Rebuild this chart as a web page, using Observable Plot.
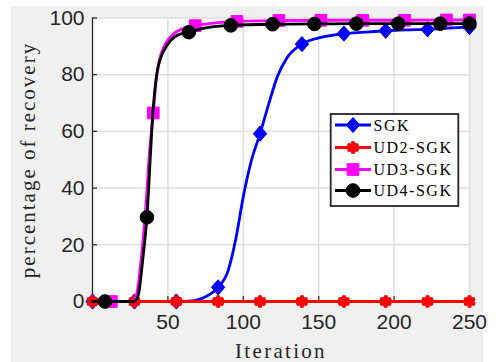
<!DOCTYPE html>
<html>
<head>
<meta charset="utf-8">
<script src="https://cdn.jsdelivr.net/npm/d3@7"></script>
<script src="https://cdn.jsdelivr.net/npm/@observablehq/plot@0.6"></script>
<style>
  html, body { margin: 0; padding: 0; background: #ffffff; }
  #wrap { position: relative; width: 498px; height: 362px; overflow: hidden; }
  #bg { position: absolute; left: 11px; top: 6px; width: 472px; height: 356px; background: #f0f0f0; }
  #chart { position: absolute; left: 0; top: 0; }
  #legend { position: absolute; left: 0; top: 0; }
</style>
</head>
<body>
<div id="wrap"><div id="bg"></div><div id="chart"></div><svg id="legend" width="498" height="362"></svg></div>
<script>
// ---------------- data ----------------
const seriesNames = ["SGK", "UD2-SGK", "UD3-SGK", "UD4-SGK"];
const seriesColors = ["#0000ff", "#ff0000", "#ff00ff", "#000000"];

const xTicks = [50, 100, 150, 200, 250];
const yTicks = [0, 20, 40, 60, 80, 100];

// SGK curve
const sgkX = [0, 27.8, 55.6, 66, 73, 78, 83.3, 90, 95, 100, 105, 111.1, 116.5, 122.7, 129, 138.9, 150, 166.7, 180, 194.4, 208, 222.2, 236, 250];
const sgkY = [0, 0, 0, 0.2, 1.2, 2.6, 5, 11, 22, 37, 49, 59.2, 69, 79.5, 86, 90.8, 93, 94.5, 95, 95.5, 95.8, 96, 96.4, 96.8];
const sgkMX = [0, 27.8, 55.6, 83.3, 111.1, 138.9, 166.7, 194.4, 222.2, 250];
const sgkMY = [0, 0, 0, 5, 59.2, 90.8, 94.5, 95.5, 96, 96.8];

// UD2-SGK curve
const ud2X = [0, 250];
const ud2Y = [0, 0];
const ud2MX = [0, 27.8, 55.6, 83.3, 111.1, 138.9, 166.7, 194.4, 222.2, 250];
const ud2MY = [0, 0, 0, 0, 0, 0, 0, 0, 0, 0];

// UD3-SGK curve
const ud3X = [0, 12.5, 25.5, 28.3, 29.8, 31.3, 33.2, 35.2, 37.4, 40.3, 42, 44.3, 48, 54, 60, 68.1, 80, 95.8, 123.6, 151.4, 179.2, 206.9, 234.7, 250];
const ud3Y = [0, 0, 0, 1, 4, 10, 20, 32, 50, 66.5, 77, 85, 90.5, 94.5, 96.3, 97.3, 98.2, 98.8, 99.1, 99.2, 99.2, 99.2, 99.3, 99.3];
const ud3MX = [12.5, 40.3, 68.1, 95.8, 123.6, 151.4, 179.2, 206.9, 234.7, 250];
const ud3MY = [0, 66.5, 97.3, 98.8, 99.1, 99.2, 99.2, 99.2, 99.3, 99.3];

// UD4-SGK curve
const ud4X = [0, 8.3, 27, 29.5, 31, 32.2, 34, 36.1, 38.4, 39.9, 40.6, 42.8, 45, 49.4, 56, 63.9, 75, 91.7, 119.4, 147.2, 175, 202.8, 230.6, 250];
const ud4Y = [0, 0, 0, 1, 4, 9.2, 18, 29.7, 51.5, 65.6, 70.3, 80.9, 85.6, 90.3, 93.8, 95, 96.5, 97.4, 97.8, 97.9, 98, 98, 98, 98];
const ud4MX = [8.3, 36.1, 63.9, 91.7, 119.4, 147.2, 175, 202.8, 230.6, 250];
const ud4MY = [0, 29.7, 95, 97.4, 97.8, 97.9, 98, 98, 98, 98];

// ---------------- build tables ----------------
const zip = (xs, ys) => xs.map((x, i) => ({x, y: ys[i]}));
const curves = [zip(sgkX, sgkY), zip(ud2X, ud2Y), zip(ud3X, ud3Y), zip(ud4X, ud4Y)];
const markers = [zip(sgkMX, sgkMY), zip(ud2MX, ud2MY), zip(ud3MX, ud3MY), zip(ud4MX, ud4MY)];

// MATLAB-like diamond (slightly wider than d3's)
const diamondSym = {draw(ctx, size) {
  const r = Math.sqrt(size / Math.PI), w = r * 0.88;
  ctx.moveTo(0, -r); ctx.lineTo(w, 0); ctx.lineTo(0, r); ctx.lineTo(-w, 0); ctx.closePath();
}};
const markerStyle = [
  {symbol: diamondSym, r: 7.6, fill: seriesColors[0], stroke: seriesColors[0], strokeWidth: 1},
  {symbol: "asterisk", r: 3.9, fill: "none", stroke: seriesColors[1], strokeWidth: 4.6, strokeLinecap: "round"},
  {symbol: "square", r: 6.6, fill: seriesColors[2], stroke: seriesColors[2], strokeWidth: 1},
  {symbol: "circle", r: 6.8, fill: seriesColors[3], stroke: seriesColors[3], strokeWidth: 1}
];

const W = 498, H = 362, mL = 92, mR = 29, mT = 17.5, mB = 61;
const frameW = W - mL - mR, frameH = H - mT - mB;
const axisColor = "#262626";

const seriesMarks = [];
for (let i = 0; i < 4; i++) {
  seriesMarks.push(Plot.line(curves[i], {x: "x", y: "y", stroke: seriesColors[i], strokeWidth: 2.8, curve: "monotone-x"}));
  seriesMarks.push(Plot.dot(markers[i], {x: "x", y: "y", ...markerStyle[i]}));
}

const plot = Plot.plot({
  width: W, height: H,
  marginLeft: mL, marginRight: mR, marginTop: mT, marginBottom: mB,
  style: {background: "transparent", fontFamily: "'Liberation Sans', Arial, sans-serif", fontSize: "21px", color: axisColor, overflow: "visible"},
  x: {domain: [0, 250]},
  y: {domain: [0, 100]},
  marks: [
    Plot.frame({fill: "#ffffff", stroke: null}),
    Plot.gridX(xTicks, {stroke: "#dfdfdf", strokeOpacity: 1, strokeWidth: 1.5}),
    Plot.gridY(yTicks, {stroke: "#dfdfdf", strokeOpacity: 1, strokeWidth: 1.5}),
    Plot.tickY(yTicks, {y: d => d, stroke: axisColor, strokeWidth: 1.2, insetRight: frameW - 5}),
    Plot.tickX(xTicks, {x: d => d, stroke: axisColor, strokeWidth: 1.2, insetTop: frameH - 5}),
    Plot.ruleX([0], {stroke: axisColor, strokeWidth: 1.3}),
    Plot.ruleY([0], {stroke: axisColor, strokeWidth: 1.3}),
    Plot.axisX(xTicks, {tickSize: 0, tickPadding: 13, label: null, fill: axisColor, fontSize: 21}),
    Plot.axisY(yTicks, {tickSize: 0, tickPadding: 8, label: null, fill: axisColor, fontSize: 21}),
    ...seriesMarks
  ]
});
document.getElementById("chart").appendChild(plot);

// axis titles (serif, like the LaTeX labels)
const svg = d3.select(plot);
svg.append("text")
  .attr("x", 281).attr("y", 357.5)
  .attr("text-anchor", "middle")
  .style("font-family", "'Liberation Serif', 'Times New Roman', serif")
  .style("font-size", "21px").style("letter-spacing", "2.3px")
  .attr("fill", axisColor)
  .text("Iteration");
svg.append("text")
  .attr("transform", "translate(35,160) rotate(-90)")
  .attr("text-anchor", "middle")
  .style("font-family", "'Liberation Serif', 'Times New Roman', serif")
  .style("font-size", "21px").style("letter-spacing", "2px")
  .attr("fill", axisColor)
  .text("percentage of recovery");

// ---------------- legend ----------------
const lg = d3.select("#legend");
const box = {x: 330.7, y: 114, w: 127.6, h: 92};
lg.append("rect").attr("x", box.x).attr("y", box.y).attr("width", box.w).attr("height", box.h)
  .attr("fill", "#ffffff").attr("stroke", "#262626").attr("stroke-width", 1.8);
const rowsY = [125, 147.5, 169.5, 190.5];
const symTypes = [diamondSym, d3.symbolAsterisk, d3.symbolSquare, d3.symbolCircle];
for (let i = 0; i < 4; i++) {
  const yy = rowsY[i];
  lg.append("line").attr("x1", 335).attr("x2", 371).attr("y1", yy).attr("y2", yy)
    .attr("stroke", seriesColors[i]).attr("stroke-width", 2.8);
  const ms = markerStyle[i];
  lg.append("path")
    .attr("d", d3.symbol(symTypes[i], Math.PI * ms.r * ms.r)())
    .attr("transform", `translate(353,${yy})`)
    .attr("fill", ms.fill).attr("stroke", ms.stroke).attr("stroke-width", ms.strokeWidth)
    .attr("stroke-linecap", ms.strokeLinecap || "butt");
  lg.append("text").attr("x", 373.5).attr("y", yy + 5.5)
    .style("font-family", "'Liberation Serif', 'Times New Roman', serif")
    .style("font-size", "16px").style("letter-spacing", "1.5px")
    .attr("fill", "#000000")
    .text(seriesNames[i]);
}
</script>
</body>
</html>
